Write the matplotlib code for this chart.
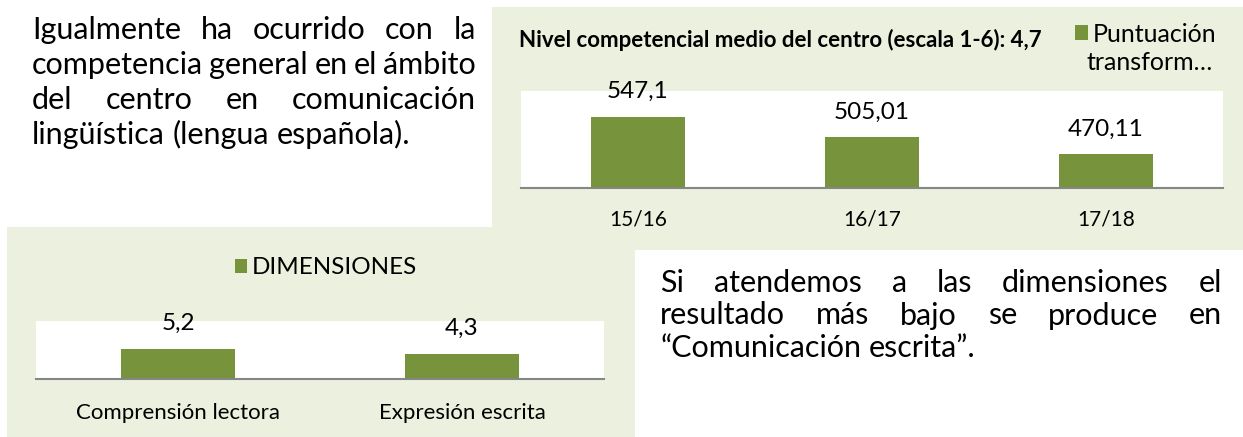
import matplotlib
matplotlib.use("Agg")
import matplotlib.pyplot as plt
from matplotlib.patches import Rectangle

# figure size in pixels
W, H = 1243, 437
DPI = 100

# chart data
years = ["15/16", "16/17", "17/18"]
puntuacion = [547.1, 505.01, 470.11]
dimensiones = ["Comprensión lectora", "Expresión escrita"]
dim_valores = [5.2, 4.3]

titulo = "Nivel competencial medio del centro (escala 1-6): 4,7"
leyenda_1 = ["Puntuación", "transform…"]
leyenda_2 = "DIMENSIONES"

parrafo_1 = ["Igualmente ha ocurrido con la",
             "competencia general en el ámbito",
             "del centro en comunicación",
             "lingüística (lengua española)."]
parrafo_2 = ["Si atendemos a las dimensiones el",
             "resultado más bajo se produce en",
             "“Comunicación escrita”."]

BG = "#EBF1DE"
BAR = "#77933C"
AXIS = "#868686"

plt.rcParams['font.family'] = ['Lato', 'DejaVu Sans']

fig = plt.figure(figsize=(W / DPI, H / DPI), dpi=DPI)


def box(x0, y0, x1, y1):
    # pixel box (top-left origin) -> figure fraction rect
    return [x0 / W, 1 - y1 / H, (x1 - x0) / W, (y1 - y0) / H]


# light green panels behind both charts
for x0, y0, x1, y1 in [(492, 7, 1243, 250), (7, 227, 635, 437)]:
    r = box(x0, y0, x1, y1)
    fig.add_artist(Rectangle((r[0], r[1]), r[2], r[3], transform=fig.transFigure,
                             facecolor=BG, edgecolor='none', zorder=0))


def bar_chart(rect, cats, vals, ylim, label_size, label_pad, cat_size, cat_pad):
    ax = fig.add_axes(box(*rect))
    bars = ax.bar(range(len(cats)), vals, width=0.4, color=BAR, zorder=2)
    ax.set_xlim(-0.5, len(cats) - 0.5)
    ax.set_ylim(*ylim)
    for s in ['top', 'left', 'right']:
        ax.spines[s].set_visible(False)
    ax.spines['bottom'].set_color(AXIS)
    ax.spines['bottom'].set_linewidth(1.5)
    ax.spines['bottom'].set_zorder(3)
    ax.set_yticks([])
    ax.set_xticks(range(len(cats)), cats, fontsize=cat_size)
    ax.tick_params(axis='x', length=0, pad=cat_pad)
    ax.bar_label(bars, labels=[str(v).replace('.', ',') for v in vals],
                 padding=label_pad, fontsize=label_size)
    return ax, bars


# top chart
ax1, bars1 = bar_chart((521, 91, 1223, 188), years, puntuacion, (400, 600),
                       17.5, 10.5, 15, 15.5)
fig.text(519 / W, 1 - 40 / H, titulo, fontsize=16, fontweight='bold',
         ha='left', va='center')
ax1.legend([bars1], [leyenda_1[0]], loc='center left',
           bbox_to_anchor=(1075 / W, 1 - 34 / H), bbox_transform=fig.transFigure,
           frameon=False, fontsize=18, handlelength=0.52, handleheight=0.52,
           handletextpad=0.2, borderpad=0, borderaxespad=0)
fig.text(1150 / W, 1 - 63 / H, leyenda_1[1], fontsize=18, ha='center', va='center')

# bottom chart
ax2, bars2 = bar_chart((36, 321, 604, 379), dimensiones, dim_valores, (0, 10),
                       17.5, 11, 16, 17)
ax2.legend([bars2], [leyenda_2], loc='center',
           bbox_to_anchor=(326 / W, 1 - 268 / H), bbox_transform=fig.transFigure,
           frameon=False, fontsize=17.5, handlelength=0.5, handleheight=0.5,
           handletextpad=0.2, borderpad=0, borderaxespad=0)


# justified paragraphs, like in the word document
def justified(lines, x0, x1, y0, step, size):
    r = fig.canvas.get_renderer()
    sp = fig.text(0, 0, "a a", fontsize=size)
    nsp = fig.text(0, 0, "aa", fontsize=size)
    space = sp.get_window_extent(r).width - nsp.get_window_extent(r).width
    sp.remove()
    nsp.remove()
    for i, line in enumerate(lines):
        words = line.split()
        y = 1 - (y0 + i * step) / H
        texts = [fig.text(0, y, w, fontsize=size, va='baseline') for w in words]
        widths = [t.get_window_extent(r).width for t in texts]
        if i == len(lines) - 1:
            gap = space
        else:
            gap = (x1 - x0 - sum(widths)) / (len(words) - 1)
        x = x0
        for t, w in zip(texts, widths):
            t.set_x(x / W)
            x += w + gap


justified(parrafo_1, 32, 476, 39, 35, 22)
justified(parrafo_2, 660, 1222, 292, 32.5, 22)

fig.savefig("out.png", dpi=DPI)
